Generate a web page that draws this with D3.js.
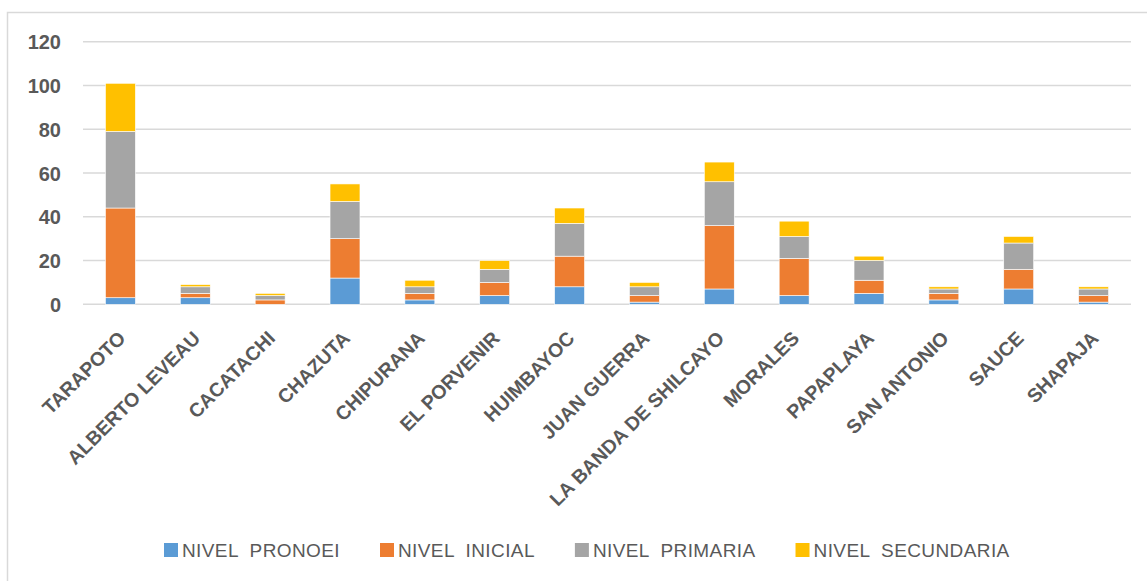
<!DOCTYPE html>
<html><head><meta charset="utf-8">
<script src="https://cdn.jsdelivr.net/npm/d3@7"></script>
<style>body{margin:0;background:#fff;}svg{display:block;}</style>
</head><body>
<svg id="c" width="1147" height="581"></svg>
<script>
const categories = ["TARAPOTO","ALBERTO LEVEAU","CACATACHI","CHAZUTA","CHIPURANA","EL PORVENIR","HUIMBAYOC","JUAN GUERRA","LA BANDA DE SHILCAYO","MORALES","PAPAPLAYA","SAN ANTONIO","SAUCE","SHAPAJA"];
const seriesNames = ["NIVEL  PRONOEI","NIVEL  INICIAL","NIVEL  PRIMARIA","NIVEL  SECUNDARIA"];
const pronoei    = [3,3,0,12,2,4,8,1,7,4,5,2,7,1];
const inicial    = [41,2,2,18,3,6,14,3,29,17,6,3,9,3];
const primaria   = [35,3,2,17,3,6,15,4,20,10,9,2,12,3];
const secundaria = [22,1,1,8,3,4,7,2,9,7,2,1,3,1];
const yTicks = [0,20,40,60,80,100,120];
const colors = ["#5B9BD5","#ED7D31","#A5A5A5","#FFC000"];

const svg = d3.select("#c");
const W = 1147, H = 581;
// chart frame
svg.append("rect").attr("x",7.5).attr("y",12.5).attr("width",W+10).attr("height",H+10)
  .attr("fill","none").attr("stroke","#d9d9d9").attr("stroke-width",1.5);

const x0 = 83, x1 = 1131, yTop = 41.7, yBot = 304.3;
const x = d3.scaleBand().domain(categories).range([x0,x1]).paddingInner(0.6).paddingOuter(0.3);
const y = d3.scaleLinear().domain([0,120]).range([yBot,yTop]);

// gridlines
svg.append("g").selectAll("line").data(yTicks).join("line")
  .attr("x1",x0).attr("x2",x1).attr("y1",d=>y(d)).attr("y2",d=>y(d))
  .attr("stroke","#d9d9d9").attr("stroke-width",1.5);

// y axis labels
const yAxis = d3.axisLeft(y).tickValues(yTicks).tickSize(0).tickPadding(0);
const yg = svg.append("g").attr("transform","translate(61,0)").call(yAxis);
yg.select(".domain").remove();
yg.selectAll("text").attr("font-family","Liberation Sans, Arial, sans-serif").attr("font-weight","bold")
  .attr("font-size",20).attr("fill","#595959").attr("dy","0.36em");

// stacked data
const rows = categories.map((c,i)=>({cat:c, s0:pronoei[i], s1:inicial[i], s2:primaria[i], s3:secundaria[i]}));
const stack = d3.stack().keys(["s0","s1","s2","s3"]);
const stacked = stack(rows);
svg.append("g").selectAll("g").data(stacked).join("g").attr("fill",(d,i)=>colors[i])
  .selectAll("rect").data(d=>d).join("rect")
  .attr("x",d=>x(d.data.cat)).attr("width",x.bandwidth())
  .attr("y",d=>y(d[1])).attr("height",d=>Math.max(0,y(d[0])-y(d[1])))
  .attr("stroke","#ffffff").attr("stroke-width",0.6);

// x labels
const xAxis = d3.axisBottom(x).tickSize(0).tickPadding(0);
const xg = svg.append("g").attr("transform",`translate(0,${yBot})`).call(xAxis);
xg.select(".domain").remove();
xg.selectAll("text")
  .attr("font-family","Liberation Sans, Arial, sans-serif").attr("font-weight","bold")
  .attr("font-size",19.5).attr("fill","#595959")
  .attr("text-anchor","end").attr("dy",null).attr("y",0)
  .attr("transform","translate(-4,25) rotate(-45)")
  .attr("dominant-baseline","hanging");

// legend
const lg = svg.append("g").attr("transform","translate(164,543)");
let lx = 0;
seriesNames.forEach((n,i)=>{
  const g = lg.append("g").attr("transform",`translate(${lx},0)`);
  g.append("rect").attr("width",14).attr("height",14).attr("fill",colors[i]);
  const t = g.append("text").attr("x",18).attr("y",7).attr("dy","0.36em")
    .attr("font-family","Liberation Sans, Arial, sans-serif").attr("font-size",19)
    .attr("letter-spacing",0.4)
    .attr("fill","#595959").style("white-space","pre").text(n);
  lx += 18 + t.node().getComputedTextLength() + 40;
});
</script>
</body></html>
